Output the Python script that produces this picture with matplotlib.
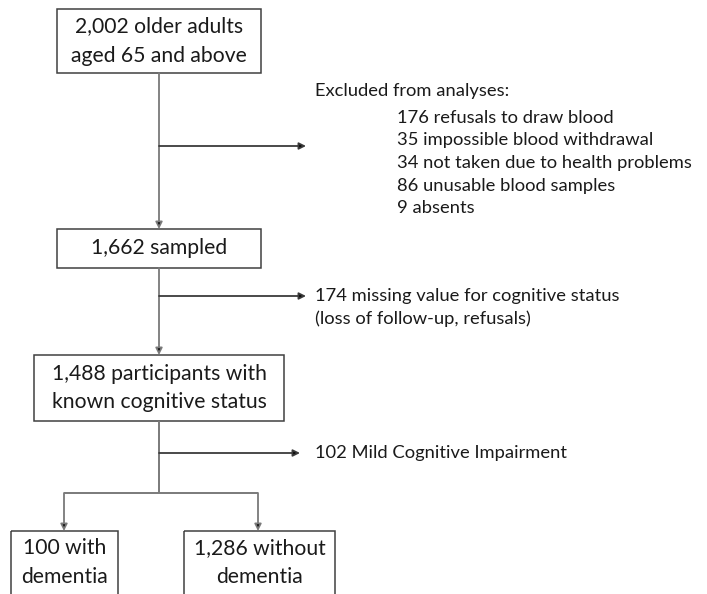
import matplotlib
matplotlib.use("Agg")
import matplotlib.pyplot as plt
from matplotlib.patches import Rectangle

plt.rcParams['font.family'] = ['Lato', 'DejaVu Sans']

# ---- content ----
box_texts = [
    "2,002 older adults\naged 65 and above",
    "1,662 sampled",
    "1,488 participants with\nknown cognitive status",
    "100 with\ndementia",
    "1,286 without\ndementia",
]
excluded_header = "Excluded from analyses:"
excluded_items = [
    "176 refusals to draw blood",
    "35 impossible blood withdrawal",
    "34 not taken due to health problems",
    "86 unusable blood samples",
    "9 absents",
]
missing_text = ["174 missing value for cognitive status",
                "(loss of follow-up, refusals)"]
mci_text = "102 Mild Cognitive Impairment"

# ---- layout (pixel coordinates) ----
W, H = 707, 594
fig = plt.figure(figsize=(W / 100, H / 100), dpi=100)
ax = fig.add_axes([0, 0, 1, 1])
ax.set_xlim(0, W)
ax.set_ylim(H, 0)
ax.axis('off')

boxes = [  # x0, y0, x1, y1
    (57, 9, 261, 73),
    (57, 229, 261, 268),
    (34, 355, 284, 421),
    (11, 531, 118, 604),
    (184, 531, 335, 604),
]
edge = '#404040'
conn = '#7a7a7a'
fs_box = 15.2
fs_side = 13.2

for (x0, y0, x1, y1), t in zip(boxes, box_texts):
    ax.add_patch(Rectangle((x0, y0), x1 - x0, y1 - y0, fill=False,
                           edgecolor=edge, lw=1.1))
    lines = t.split("\n")
    if (x0, y0) in [(11, 531), (184, 531)]:
        ys = [548, 577]
    elif len(lines) == 2:
        cy = (y0 + y1) / 2
        ys = [cy - 14.5, cy + 14.5]
    else:
        ys = [(y0 + y1) / 2]
    for ln, yy in zip(lines, ys):
        ax.text((x0 + x1) / 2, yy, ln, ha='center', va='center',
                fontsize=fs_box, color='#1a1a1a')


def arrow(x0, y0, x1, y1, color):
    ax.annotate('', xy=(x1, y1), xytext=(x0, y0),
                arrowprops=dict(arrowstyle='-|>', color=color, lw=1.3,
                                mutation_scale=10, shrinkA=0, shrinkB=0,
                                fc='black', ec=color))


def line(xs, ys, color):
    ax.plot(xs, ys, color=color, lw=1.4, solid_capstyle='butt')


cx = 159
# box1 -> box2
arrow(cx, 73, cx, 229, conn)
arrow(cx, 146, 306, 146, '#3a3a3a')
# box2 -> box3
arrow(cx, 268, cx, 355, conn)
arrow(cx, 296, 306, 296, '#3a3a3a')
# box3 -> split
line([cx, cx], [421, 493], conn)
arrow(cx, 453, 300, 453, '#3a3a3a')
line([64, 258], [493, 493], conn)
arrow(64, 493, 64, 531, conn)
arrow(258, 493, 258, 531, conn)

# side texts
ax.text(315, 91, excluded_header, ha='left', va='center', fontsize=fs_side,
        color='#1a1a1a')
for i, t in enumerate(excluded_items):
    ax.text(397, 118 + i * 22.5, t, ha='left', va='center', fontsize=fs_side,
            color='#1a1a1a')
for i, t in enumerate(missing_text):
    ax.text(315, 296 + i * 23, t, ha='left', va='center', fontsize=fs_side,
            color='#1a1a1a')
ax.text(315, 453, mci_text, ha='left', va='center', fontsize=fs_side,
        color='#1a1a1a')

fig.savefig('out.png', dpi=100)
